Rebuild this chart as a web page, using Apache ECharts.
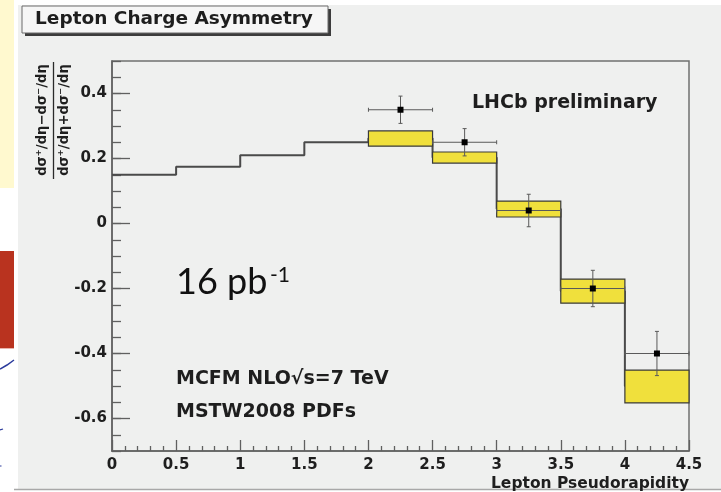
<!DOCTYPE html>
<html>
<head>
<meta charset="utf-8">
<script src="https://cdn.jsdelivr.net/npm/echarts@6/dist/echarts.min.js"></script>
<style>
  html, body { margin: 0; padding: 0; background: #ffffff; }
  #chart { width: 721px; height: 492px; }
</style>
</head>
<body>
<div id="chart"></div>
<script>
// MCFM NLO prediction: bin edges in lepton pseudorapidity and the predicted asymmetry per bin
const binEdges = [0, 0.5, 1, 1.5, 2, 2.5, 3, 3.5, 4, 4.5];
const mcfmValue = [0.15, 0.175, 0.21, 0.25, 0.262, 0.203, 0.045, -0.208, -0.50];
// PDF uncertainty band (only shown in the LHCb acceptance, eta > 2)
const bandLow  = [null, null, null, null, 0.238, 0.186, 0.020, -0.245, -0.552];
const bandHigh = [null, null, null, null, 0.285, 0.220, 0.069, -0.171, -0.451];

// LHCb preliminary measurement
const dataEta    = [2.25, 2.75, 3.25, 3.75, 4.25];
const dataEtaErr = [0.25, 0.25, 0.25, 0.25, 0.25];
const dataAsym   = [0.35, 0.25, 0.04, -0.20, -0.40];
const dataErr    = [0.042, 0.042, 0.05, 0.056, 0.068];

// axis ticks
const xTickValues = [0, 0.5, 1, 1.5, 2, 2.5, 3, 3.5, 4, 4.5];
const xTickLabels = ['0', '0.5', '1', '1.5', '2', '2.5', '3', '3.5', '4', '4.5'];
const yTickValues = [-0.6, -0.4, -0.2, 0, 0.2, 0.4];
const yTickLabels = ['-0.6', '-0.4', '-0.2', '0', '0.2', '0.4'];

const yMin = -0.7, yMax = 0.5;
const yMinorTicks = [];
for (let k = Math.round(yMin / 0.05); k <= Math.round(yMax / 0.05); k++) {
  yMinorTicks.push(Math.round(k * 5) / 100);
}

const rootFont = '"DejaVu Sans", sans-serif';
const ink = '#1e1e1e';

// histogram outline of the prediction (step at each bin edge)
const stepData = binEdges.slice(0, -1).map((e, i) => [e, mcfmValue[i]]);
stepData.push([binEdges[binEdges.length - 1], mcfmValue[mcfmValue.length - 1]]);

const bandData = [];
for (let i = 0; i < mcfmValue.length; i++) {
  if (bandLow[i] !== null) bandData.push([binEdges[i], binEdges[i + 1], bandLow[i], bandHigh[i]]);
}
const pointData = dataEta.map((x, i) => [x, dataAsym[i], dataEtaErr[i], dataErr[i]]);

const chart = echarts.init(document.getElementById('chart'), null, { renderer: 'canvas' });

const option = {
  animation: false,
  backgroundColor: '#ffffff',
  grid: {
    left: 112, right: 32, top: 61, bottom: 41,
    show: true, borderColor: '#707070', borderWidth: 1.5, backgroundColor: 'transparent'
  },
  xAxis: {
    type: 'value', min: 0, max: 4.5, interval: 0.5,
    name: 'Lepton Pseudorapidity',
    nameLocation: 'end', nameGap: 0,
    nameTextStyle: {
      fontFamily: rootFont, fontWeight: 'bold', fontSize: 15.5, color: ink,
      align: 'right', verticalAlign: 'top', padding: [25, 0, 0, 0]
    },
    axisLine: { show: true, onZero: false, lineStyle: { color: '#606060', width: 1.5 } },
    axisTick: { show: true, inside: true, length: 11, lineStyle: { color: '#606060', width: 1.3 } },
    minorTick: { show: true, splitNumber: 5, length: 5, lineStyle: { color: '#606060', width: 1.3 } },
    splitLine: { show: false },
    axisLabel: {
      margin: 7, fontFamily: rootFont, fontWeight: 'bold', fontSize: 15, color: ink,
      formatter: v => { const i = xTickValues.findIndex(t => Math.abs(t - v) < 1e-6); return i >= 0 ? xTickLabels[i] : ''; }
    }
  },
  yAxis: [
    {
      type: 'value', min: yMin, max: yMax, position: 'left', offset: 0,
      axisLine: { show: true, onZero: false, lineStyle: { color: '#606060', width: 1.5 } },
      axisTick: { show: true, inside: true, length: 18, customValues: yTickValues, lineStyle: { color: '#606060', width: 1.3 } },
      splitLine: { show: false },
      axisLabel: {
        margin: 5, fontFamily: rootFont, fontWeight: 'bold', fontSize: 15, color: ink,
        customValues: yTickValues,
        formatter: v => { const i = yTickValues.findIndex(t => Math.abs(t - v) < 1e-6); return i >= 0 ? yTickLabels[i] : ''; }
      }
    },
    {
      type: 'value', min: yMin, max: yMax, position: 'left', offset: 0,
      axisLine: { show: false },
      axisTick: { show: true, inside: true, length: 9, customValues: yMinorTicks, lineStyle: { color: '#606060', width: 1.3 } },
      splitLine: { show: false },
      axisLabel: { show: false }
    }
  ],
  series: [
    {
      name: 'MCFM NLO',
      type: 'line', step: 'end', data: stepData,
      symbol: 'none', z: 2,
      lineStyle: { color: '#4a4a4a', width: 2 }
    },
    {
      name: 'PDF band',
      type: 'custom', z: 3,
      data: bandData,
      renderItem: (params, api) => {
        const p0 = api.coord([api.value(0), api.value(3)]);
        const p1 = api.coord([api.value(1), api.value(2)]);
        return {
          type: 'rect',
          shape: { x: p0[0], y: p0[1], width: p1[0] - p0[0], height: p1[1] - p0[1] },
          style: { fill: '#f0e03c', stroke: '#3a3a3a', lineWidth: 1.2 }
        };
      }
    },
    {
      name: 'LHCb data',
      type: 'custom', z: 4,
      data: pointData,
      renderItem: (params, api) => {
        const x = api.value(0), y = api.value(1), ex = api.value(2), ey = api.value(3);
        const c = api.coord([x, y]);
        const l = api.coord([x - ex, y]);
        const r = api.coord([x + ex, y]);
        const t = api.coord([x, y + ey]);
        const b = api.coord([x, y - ey]);
        const st = { stroke: '#5a5a5a', lineWidth: 1 };
        const cap = 2;
        return {
          type: 'group',
          children: [
            { type: 'line', shape: { x1: l[0], y1: l[1], x2: r[0], y2: r[1] }, style: st },
            { type: 'line', shape: { x1: t[0], y1: t[1], x2: b[0], y2: b[1] }, style: st },
            { type: 'line', shape: { x1: l[0], y1: l[1] - cap, x2: l[0], y2: l[1] + cap }, style: st },
            { type: 'line', shape: { x1: r[0], y1: r[1] - cap, x2: r[0], y2: r[1] + cap }, style: st },
            { type: 'line', shape: { x1: t[0] - cap, y1: t[1], x2: t[0] + cap, y2: t[1] }, style: st },
            { type: 'line', shape: { x1: b[0] - cap, y1: b[1], x2: b[0] + cap, y2: b[1] }, style: st },
            { type: 'rect', shape: { x: c[0] - 3, y: c[1] - 3, width: 6, height: 6 }, style: { fill: '#000000' } }
          ]
        };
      }
    }
  ],
  graphic: {
    elements: [
      // canvas background
      { type: 'rect', z: -100, shape: { x: 18, y: 5, width: 703, height: 484 }, style: { fill: '#eff0ef' } },
      { type: 'line', z: -99, shape: { x1: 14, y1: 489.5, x2: 721, y2: 489.5 }, style: { stroke: '#a8a8a8', lineWidth: 1.5 } },
      // slide decorations at the left edge
      { type: 'rect', z: -99, shape: { x: 0, y: 0, width: 14, height: 188 }, style: { fill: '#fff9cf' } },
      { type: 'rect', z: -99, shape: { x: 0, y: 251, width: 14, height: 97 }, style: { fill: '#b9331f' } },
      { type: 'line', z: -99, shape: { x1: 0, y1: 348.5, x2: 14, y2: 348.5 }, style: { stroke: '#e9b3aa', lineWidth: 1 } },
      { type: 'polyline', z: -99, shape: { points: [[0, 369], [7, 365], [14, 360]] }, style: { stroke: '#2b3b9c', lineWidth: 1.5, fill: null } },
      { type: 'line', z: -99, shape: { x1: 0, y1: 430, x2: 3, y2: 429 }, style: { stroke: '#2b3b9c', lineWidth: 1.3 } },
      { type: 'line', z: -99, shape: { x1: 0, y1: 466, x2: 1.5, y2: 466 }, style: { stroke: '#2b3b9c', lineWidth: 1.2 } },
      // title box with shadow
      { type: 'rect', z: 50, shape: { x: 25, y: 9, width: 306, height: 27 }, style: { fill: '#3c3c3c' } },
      { type: 'rect', z: 51, shape: { x: 22, y: 6, width: 306, height: 27 }, style: { fill: '#f6f6f6', stroke: '#6a6a6a', lineWidth: 1 } },
      { type: 'text', z: 52, x: 174, y: 19.5, style: { text: 'Lepton Charge Asymmetry', fontFamily: rootFont, fontWeight: 'bold', fontSize: 18.5, fill: ink, align: 'center', verticalAlign: 'middle' } },
      // y axis title as a fraction
      { type: 'text', z: 52, x: 43, y: 120, rotation: Math.PI / 2, style: { text: 'dσ⁺/dη−dσ⁻/dη', fontFamily: rootFont, fontWeight: 'bold', fontSize: 13.2, fill: ink, align: 'center', verticalAlign: 'middle' } },
      { type: 'line', z: 52, shape: { x1: 53.5, y1: 62, x2: 53.5, y2: 179 }, style: { stroke: '#2a2a2a', lineWidth: 1.3 } },
      { type: 'text', z: 52, x: 64.5, y: 120, rotation: Math.PI / 2, style: { text: 'dσ⁺/dη+dσ⁻/dη', fontFamily: rootFont, fontWeight: 'bold', fontSize: 13.2, fill: ink, align: 'center', verticalAlign: 'middle' } },
      // annotations
      { type: 'text', z: 52, x: 472, y: 103, style: { text: 'LHCb preliminary', fontFamily: rootFont, fontWeight: 'bold', fontSize: 19, fill: ink, align: 'left', verticalAlign: 'middle' } },
      { type: 'text', z: 52, x: 176, y: 282, style: { text: '16 pb', fontFamily: 'Lato, sans-serif', fontSize: 36, fill: '#111111', align: 'left', verticalAlign: 'middle' } },
      { type: 'text', z: 52, x: 270, y: 275, style: { text: '-1', fontFamily: 'Lato, sans-serif', fontSize: 21, fill: '#111111', align: 'left', verticalAlign: 'middle' } },
      { type: 'text', z: 52, x: 176, y: 379, style: { text: 'MCFM NLO√s=7 TeV', fontFamily: rootFont, fontWeight: 'bold', fontSize: 19, fill: ink, align: 'left', verticalAlign: 'middle' } },
      { type: 'text', z: 52, x: 176, y: 412, style: { text: 'MSTW2008 PDFs', fontFamily: rootFont, fontWeight: 'bold', fontSize: 19, fill: ink, align: 'left', verticalAlign: 'middle' } }
    ]
  }
};

chart.setOption(option);
</script>
</body>
</html>
